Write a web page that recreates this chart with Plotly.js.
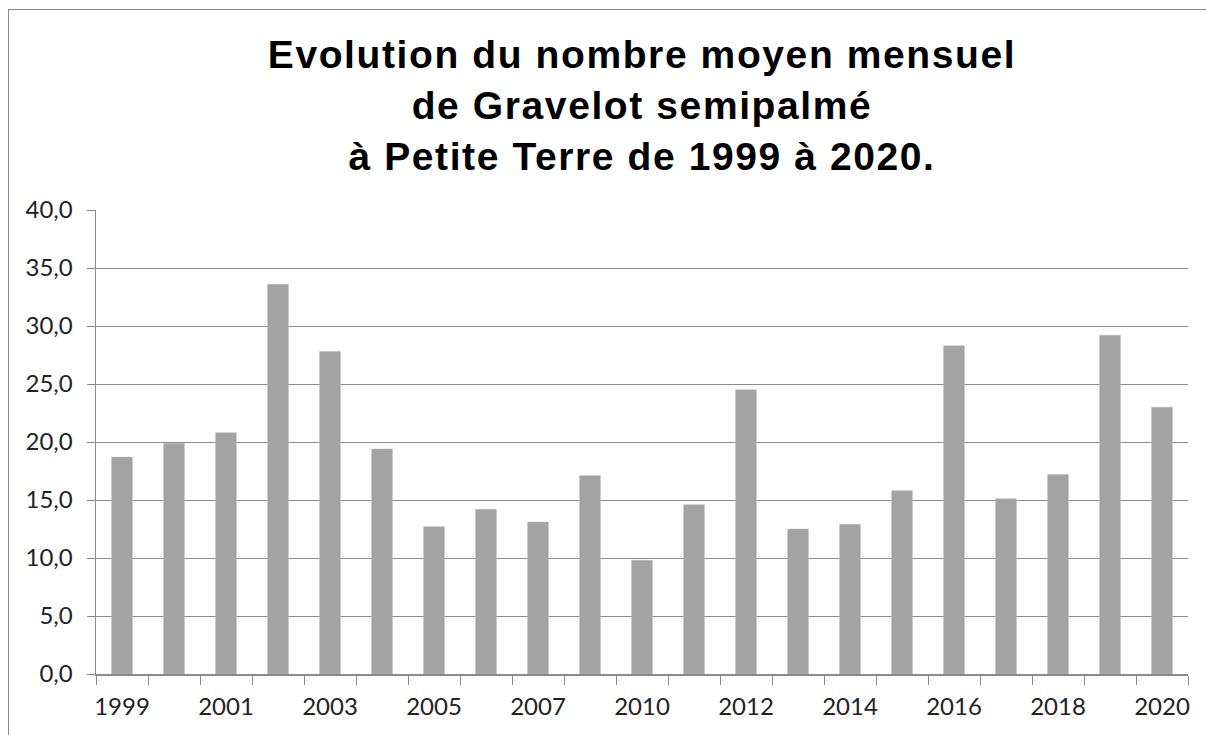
<!DOCTYPE html>
<html>
<head>
<meta charset="utf-8">
<script src="https://cdn.plot.ly/plotly-3.0.1.min.js"></script>
<style>
  html, body { margin: 0; padding: 0; background: #fff; }
  #wrap { position: relative; width: 1206px; height: 735px; overflow: hidden; }
  #chart { width: 1206px; height: 735px; }
  #frame { position: absolute; left: 8px; top: 9px; right: -10px; bottom: -10px;
           border-left: 1.5px solid #8a8a8a; border-top: 1.5px solid #8a8a8a; pointer-events: none; }
  .gtitle { letter-spacing: 1.6px; }
</style>
</head>
<body>
<div id="wrap">
  <div id="chart"></div>
  <div id="frame"></div>
</div>
<script>
// Years (2009 absent from the series)
const years = ['1999','2000','2001','2002','2003','2004','2005','2006','2007','2008',
               '2010','2011','2012','2013','2014','2015','2016','2017','2018','2019','2020'];
// Mean monthly number of Semipalmated Plover
const values = [18.7, 19.9, 20.8, 33.6, 27.8, 19.4, 12.7, 14.2, 13.1, 17.1,
                9.8, 14.6, 24.5, 12.5, 12.9, 15.8, 28.3, 15.1, 17.2, 29.2, 23.0];
// Only every other year is labelled on the axis
const tickLabels = years.map((y, i) => (i % 2 === 0 ? y : ''));

const titleText = 'Evolution du nombre moyen mensuel<br>de Gravelot semipalmé<br>à Petite Terre de 1999 à 2020.';

const trace = {
  type: 'bar',
  x: years,
  y: values,
  marker: { color: '#a3a3a3', line: { color: '#b8b8b8', width: 0.5 } },
  hoverinfo: 'x+y'
};

const layout = {
  width: 1206,
  height: 735,
  margin: { l: 96, r: 18, t: 210, b: 61, pad: 0 },
  paper_bgcolor: '#ffffff',
  plot_bgcolor: '#ffffff',
  separators: ', ',
  bargap: 0.6,
  showlegend: false,
  title: {
    text: titleText,
    font: { family: 'Liberation Sans, Arial, sans-serif', size: 39, color: '#000000', weight: 'bold' },
    xref: 'paper',
    x: 0.5,
    xanchor: 'center',
    yref: 'container',
    y: 0.907,
    yanchor: 'top'
  },
  xaxis: {
    type: 'category',
    tickvals: years,
    ticktext: tickLabels,
    tickson: 'boundaries',
    ticks: 'outside',
    ticklen: 9,
    tickwidth: 1,
    tickcolor: '#8a8a8a',
    showline: true,
    linecolor: '#8a8a8a',
    linewidth: 1.5,
    showgrid: false,
    tickangle: 0,
    ticklabelstandoff: 11,
    tickfont: { family: 'Lato, Liberation Sans, sans-serif', size: 24, color: '#222222' }
  },
  yaxis: {
    range: [0, 40],
    tick0: 0,
    dtick: 5,
    tickformat: '.1f',
    ticks: 'outside',
    ticklen: 8,
    tickwidth: 1,
    tickcolor: '#8a8a8a',
    showline: true,
    linecolor: '#8a8a8a',
    linewidth: 1.5,
    showgrid: true,
    gridcolor: '#8c8c8c',
    gridwidth: 1,
    zeroline: false,
    ticklabelstandoff: 9,
    tickfont: { family: 'Lato, Liberation Sans, sans-serif', size: 24, color: '#222222' }
  }
};

Plotly.newPlot('chart', [trace], layout, { displayModeBar: false, staticPlot: true });
</script>
</body>
</html>
